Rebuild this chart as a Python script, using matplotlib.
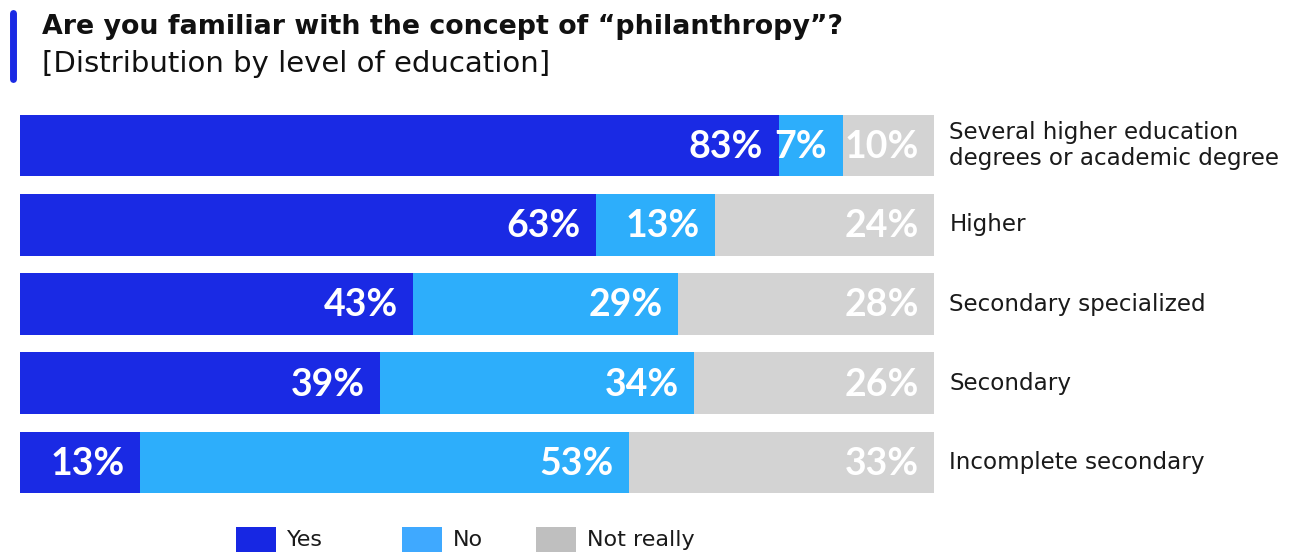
import matplotlib
matplotlib.use("Agg")
import numpy as np
import matplotlib.pyplot as plt
from matplotlib.patches import Rectangle
from matplotlib.lines import Line2D

plt.rcParams['font.family'] = ['DejaVu Sans']

categories = [
    "Several higher education\ndegrees or academic degree",
    "Higher",
    "Secondary specialized",
    "Secondary",
    "Incomplete secondary",
]
yes_vals = [83, 63, 43, 39, 13]
no_vals = [7, 13, 29, 34, 53]
not_really_vals = [10, 24, 28, 26, 33]

series_names = ["Yes", "No", "Not really"]
bar_colors = ["#1A2AE4", "#2DAEFB", "#D3D3D3"]
legend_colors = ["#1727E3", "#3FA9FF", "#BFBFBF"]

W, H = 1304, 553
fig = plt.figure(figsize=(W / 100, H / 100), dpi=100)
ax = fig.add_axes([20 / W, 1 - 502 / H, 914 / W, 396 / H])

data = np.array([yes_vals, no_vals, not_really_vals], dtype=float)
totals = data.sum(axis=0)
shares = data / totals  # each row fills the full width
y = np.arange(len(categories))
left = np.zeros(len(categories))

for i, name in enumerate(series_names):
    ax.barh(y, shares[i], left=left, height=0.78, color=bar_colors[i], edgecolor='none')
    for j in range(len(categories)):
        end = left[j] + shares[i][j]
        ax.annotate(f"{int(data[i][j])}%", xy=(end, y[j]), xytext=(-11, -1),
                    textcoords='offset points', ha='right', va='center',
                    color='white', fontsize=27, fontweight='bold', family='Lato')
    left += shares[i]

for j, cat in enumerate(categories):
    ax.annotate(cat, xy=(1, y[j]), xytext=(11, 0), textcoords='offset points',
                ha='left', va='center', fontsize=16.6, color='#1a1a1a',
                linespacing=1.2, annotation_clip=False)

ax.set_xlim(0, 1)
ax.set_ylim(len(categories) - 0.5, -0.5)
ax.axis('off')

# title block with the accent stripe
fig.add_artist(Line2D([13 / W, 13 / W], [1 - 13 / H, 1 - 79 / H], transform=fig.transFigure,
                      color='#1A2AE4', lw=5, solid_capstyle='round'))
fig.text(42 / W, 1 - 27 / H, "Are you familiar with the concept of “philanthropy”?",
         fontsize=19.4, fontweight='bold', color='#111111', va='center', ha='left')
fig.text(42 / W, 1 - 64 / H, "[Distribution by level of education]",
         fontsize=21, color='#111111', va='center', ha='left')

# legend row
legend_x = [236, 402, 536]
for name, color, lx in zip(series_names, legend_colors, legend_x):
    fig.add_artist(Rectangle((lx / W, 1 - 552 / H), 40 / W, 25 / H,
                             transform=fig.transFigure, facecolor=color, edgecolor='none'))
    fig.text((lx + 51) / W, 1 - 540 / H, name, fontsize=16, color='#1a1a1a',
             va='center', ha='left')

fig.savefig("out.png", dpi=100)
